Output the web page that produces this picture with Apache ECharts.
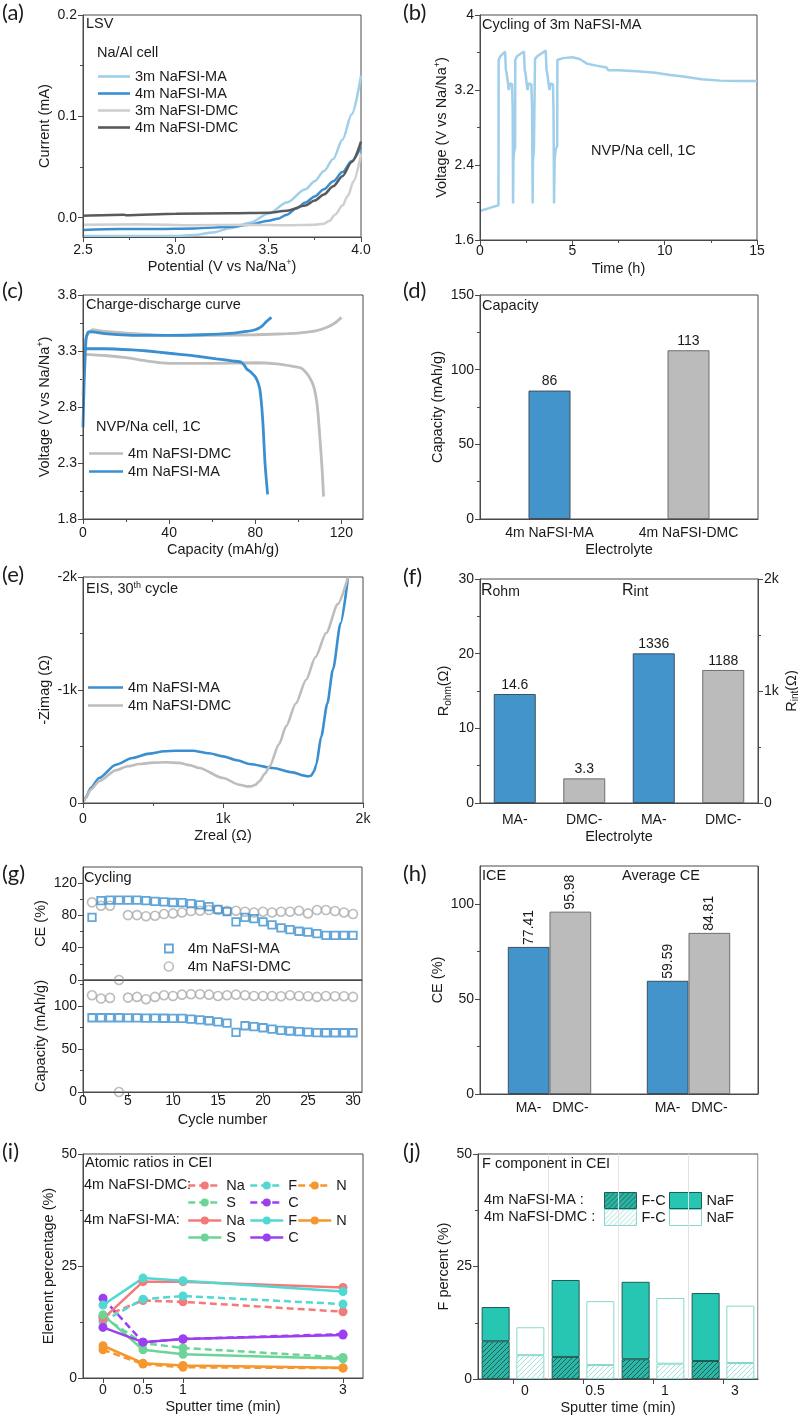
<!DOCTYPE html>
<html><head><meta charset="utf-8">
<script src="https://cdn.jsdelivr.net/npm/echarts@6/dist/echarts.min.js"></script>
<style>html,body{margin:0;padding:0;background:#fff}#c{width:798px;height:1416px}</style>
</head><body><div id="c"></div>
<script>
// ================= DATA =================
// (a) LSV, [potential V, current mA]
const lsv3mMA = [[2.5,-0.018],[2.7,-0.018],[2.9,-0.018],[3.0,-0.018],[3.1,-0.017],[3.2,-0.0145],[3.3,-0.010],[3.4,-0.005],[3.5,0.004],[3.6,0.015],[3.7,0.028],[3.75,0.036],[3.8,0.046],[3.85,0.058],[3.9,0.077],[3.95,0.102],[4.0,0.14]];
const lsv4mMA = [[2.5,-0.012],[2.7,-0.011],[2.9,-0.011],[3.1,-0.0105],[3.3,-0.009],[3.4,-0.007],[3.5,-0.003],[3.55,-0.001],[3.6,0.003],[3.65,0.009],[3.7,0.015],[3.75,0.021],[3.8,0.028],[3.85,0.036],[3.9,0.045],[3.95,0.056],[4.0,0.07]];
const lsv3mDMC = [[2.5,-0.007],[2.8,-0.0065],[3.1,-0.0075],[3.4,-0.007],[3.6,-0.0075],[3.75,-0.007],[3.8,-0.006],[3.83,-0.003],[3.86,0.003],[3.9,0.012],[3.93,0.022],[3.96,0.036],[4.0,0.063]];
const lsv4mDMC = [[2.5,0.002],[2.72,0.003],[2.73,0.0025],[3.0,0.004],[3.3,0.0045],[3.5,0.005],[3.6,0.007],[3.7,0.012],[3.75,0.017],[3.8,0.023],[3.85,0.031],[3.9,0.041],[3.95,0.055],[4.0,0.075]];
// (b) cycling of 3m NaFSI-MA, [time h, voltage V]
const cyc3mMA = [[0,1.91],[0.5,1.94],[1.0,1.97],[1.01,3.52],[1.1,3.56],[1.36,3.61],[1.4,3.42],[1.45,3.37],[1.55,3.36],[1.56,3.2],[1.62,3.27],[1.68,3.29],[1.74,3.26],[1.77,3.0],[1.79,1.99],[1.81,2.45],[1.85,2.55],[1.9,2.58],
  [1.91,3.52],[2.0,3.56],[2.38,3.61],[2.42,3.42],[2.47,3.37],[2.56,3.36],[2.57,3.2],[2.63,3.27],[2.7,3.29],[2.78,3.26],[2.82,3.0],[2.85,1.99],[2.87,2.45],[2.92,2.56],[2.97,2.58],
  [2.98,3.53],[3.1,3.56],[3.56,3.62],[3.6,3.42],[3.65,3.37],[3.75,3.36],[3.76,3.2],[3.82,3.27],[3.88,3.29],[3.95,3.26],[3.98,3.0],[4.01,1.99],[4.04,2.45],[4.1,2.57],[4.18,2.6],
  [4.19,3.52],[4.5,3.54],[5.0,3.55],[5.4,3.53],[5.8,3.48],[6.3,3.46],[6.85,3.44],[6.95,3.41],[7.5,3.41],[8.5,3.4],[9.5,3.385],[10.3,3.36],[11,3.345],[12,3.315],[13,3.30],[14,3.295],[15,3.295]];
// (c) charge-discharge, [capacity mAh/g, voltage V]
const dmcCharge = [[0,2.9],[1,3.38],[2.5,3.46],[4.5,3.49],[8,3.48],[20,3.46],[40,3.44],[60,3.44],[80,3.445],[95,3.455],[102,3.465],[108,3.48],[113,3.51],[117,3.55],[120,3.6]];
const dmcDischarge = [[0,3.27],[10,3.26],[20,3.24],[30,3.21],[40,3.19],[60,3.19],[80,3.195],[90,3.185],[97,3.165],[101,3.15],[103,3.12],[105,3.07],[107,2.99],[108.5,2.85],[109.3,2.7],[110,2.52],[111,2.25],[111.7,2.0]];
const maCharge = [[0,2.62],[0.5,3.0],[1,3.25],[1.5,3.42],[2.5,3.47],[4,3.47],[10,3.455],[23,3.44],[40,3.44],[55,3.445],[70,3.46],[76,3.475],[80,3.49],[83,3.52],[85,3.56],[87.5,3.6]];
const maDischarge = [[0,3.32],[10,3.32],[23,3.31],[30,3.3],[40,3.28],[50,3.26],[62,3.23],[70,3.21],[73.5,3.2],[75,3.17],[76,3.14],[78,3.11],[80.3,3.06],[82,2.97],[83,2.8],[83.7,2.6],[84.5,2.3],[85.7,2.02]];
// (d) capacity
const dCats = ['4m NaFSI-MA','4m NaFSI-DMC'];
const dCapacity = [86, 113];
// (e) EIS, [Zreal, Zimag]
const eisMA = [[0,0],[20,-50],[55,-133],[115,-221],[234,-339],[353,-398],[472,-437],[580,-458],[663,-463],[783,-463],[900,-440],[1000,-413],[1100,-378],[1189,-345],[1356,-310],[1499,-271],[1580,-242],[1606,-236],[1630,-242],[1650,-280],[1666,-339],[1702,-590],[1745,-880],[1785,-1180],[1840,-1590],[1893,-2000]];
const eisDMC = [[0,0],[20,-45],[55,-118],[115,-192],[234,-289],[320,-325],[401,-345],[500,-357],[592,-360],[687,-355],[760,-335],[830,-310],[1000,-221],[1117,-162],[1170,-147],[1200,-147],[1230,-160],[1260,-192],[1300,-260],[1332,-324],[1400,-520],[1451,-678],[1520,-880],[1594,-1091],[1660,-1290],[1737,-1504],[1820,-1760],[1893,-2000]];
// (f) resistances
const fCats = ['MA-','DMC-','MA-','DMC-'];
const rOhm = [14.6, 3.3];
const rInt = [1336, 1188];
// (g) cycling
const cycles = [1,2,3,4,5,6,7,8,9,10,11,12,13,14,15,16,17,18,19,20,21,22,23,24,25,26,27,28,29,30];
const ceMA = [77.5,98.3,99,99,99,99,98.3,97.5,96.7,96,95.8,94.6,93,91,87.5,84.6,72,77.5,76,72,68.3,64.6,62.5,60.4,59.2,57.5,55.4,55.4,55.4,55.4];
const ceDMC = [96.2,92,92,0,80.4,80.4,79,79.6,81.7,82.5,83.7,85.4,85.8,86.7,86.7,85.8,85.8,84.6,83.7,84.6,83.7,84.6,84.6,85.8,82.5,86.7,86.7,85.4,83.7,81.7];
const capMA = [86.2,86.2,86.2,86.2,86,86,85.8,85.8,85.6,85.4,85.4,84.6,83.8,82.7,81.5,80,69.2,76.9,75.8,74.6,73,71.5,70.8,70,69.5,69,68.8,68.8,68.8,68.8];
const capDMC = [112.3,108.5,109.2,0,109.6,110.4,107.7,110.4,112.3,111.5,113,113.5,113.5,113,111.5,112.3,113,112.3,111.5,111.5,111.5,111.2,112.3,111.5,111.2,110.4,111.5,111.2,111.2,110.4];
// (h) CE
const hCats = ['ICE','Average CE'];
const hMA = [77.41, 59.59];
const hDMC = [95.98, 84.81];
// (i) atomic ratios
const sputter = [0, 0.5, 1, 3];
const maNa = [13.2,21.5,21.5,20.2], maF = [16.3,22.3,21.7,19.3], maN = [7.2,3.3,2.8,2.3], maS = [14.1,6.3,5.3,4.3], maC = [11.3,8.0,8.7,9.6];
const dmcNa = [13.7,17.3,17.0,14.8], dmcF = [12.6,17.6,18.3,16.5], dmcN = [6.3,3.1,2.4,2.2], dmcS = [13.7,7.8,6.7,4.6], dmcC = [17.8,8.0,8.7,9.8];
// (j) F components (stack segments)
const jCats = ['0','0.5','1','3'];
const maFC = [8.4,4.9,4.4,4.0], maNaF = [7.6,17.1,17.2,15.1];
const dmcFC = [5.3,3.1,3.4,3.55], dmcNaF = [6.2,14.2,14.6,12.75];

// ================= STYLE =================
const FONT = '"Liberation Sans", Arial, sans-serif';
const AX = '#4a4a4a', TXT = '#1a1a1a';
const BLUE = '#3a8fd0', LBLUE = '#9fcfea', BARBLUE = '#4494cc', BARGRAY = '#bbbbbb';
const RICH = {
  sup:{fontSize:9, verticalAlign:'top', fontFamily:FONT, color:TXT},
  sub:{fontSize:10, verticalAlign:'bottom', fontFamily:FONT, color:TXT}
};
const NAMESTYLE = {color:TXT, fontSize:14.5, fontFamily:FONT, lineHeight:18, rich:RICH};
const kfmt = v => v === 0 ? '0' : (v/1000) + 'k';

const grids = [], xAxes = [], yAxes = [], legends = [], series = [], graphics = [];
function grid(l,t,w,h){ grids.push({left:l,top:t,width:w,height:h,show:true,borderColor:AX,borderWidth:1,backgroundColor:'rgba(0,0,0,0)',containLabel:false,outerBoundsMode:'none'}); return grids.length-1; }
function addVal(list, g, o){
  const base = {type:'value', gridIndex:g, min:o.min, max:o.max, position:o.pos, inverse:!!o.inverse, splitLine:{show:false}};
  const lab = {show:!o.hideLabels, customValues:o.labels, color:TXT, fontSize:14, fontFamily:FONT, margin:(o.margin===undefined?6:o.margin)};
  if (o.fmt) lab.formatter = o.fmt;
  list.push(Object.assign({}, base, {
    axisLine:{show:true,onZero:false,lineStyle:{color:AX,width:1}},
    axisTick:{show:o.tick!==false, inside:false, length:5, lineStyle:{color:AX,width:1}, customValues:o.labels},
    axisLabel:lab,
    name:o.name||'', nameLocation:'middle', nameGap:o.nameGap||20, nameTextStyle:NAMESTYLE, z:5
  }));
  const idx = list.length-1;
  if (o.minor) list.push(Object.assign({}, base, {
    axisLine:{show:false,onZero:false}, axisTick:{show:true,inside:false,length:3,lineStyle:{color:AX,width:1},customValues:o.minor},
    axisLabel:{show:false,customValues:o.minor}, name:''
  }));
  return idx;
}
function addCat(list, g, o){
  const lab = {show:true, color:TXT, fontSize:14, fontFamily:FONT, margin:(o.margin===undefined?8:o.margin), interval:0};
  if (o.fmt) lab.formatter = o.fmt;
  if (o.rich) lab.rich = o.rich;
  if (o.pad) lab.padding = o.pad;
  list.push({type:'category', gridIndex:g, data:o.data, position:'bottom', boundaryGap:true,
    axisLine:{show:true,onZero:false,lineStyle:{color:AX,width:1}},
    axisTick:{show:!!o.tick, alignWithLabel:true, length:5, lineStyle:{color:AX,width:1}},
    axisLabel:lab, splitLine:o.split||{show:false},
    name:o.name||'', nameLocation:'middle', nameGap:o.nameGap||24, nameTextStyle:NAMESTYLE, z:5});
  return list.length-1;
}
function leg(name, left, cy, o){
  o = o || {};
  const ih = o.ih || 14, iw = o.iw || 32;
  const L = {show:true, orient:'horizontal', left:left, top:cy - Math.max(ih,14)/2, padding:0, itemGap:0,
    itemWidth:iw, itemHeight:ih, data:[name], selectedMode:false,
    formatter: n => n.split('|')[1],
    textStyle:{color:TXT, fontSize:14.5, fontFamily:FONT, padding:o.tp||0},
    lineStyle:{width:o.lw||2.5}};
  if (o.icon) L.icon = o.icon;
  if (o.itemStyle) L.itemStyle = o.itemStyle;
  legends.push(L);
}
// legend entry drawn as a plain line (series without symbols)
function legLine(name, left, cy, iw){ leg(name, left, cy, {iw:iw, ih:2.6, icon:'rect', itemStyle:{borderWidth:0}}); }
function txt(x, y, text, o){
  o = o || {};
  graphics.push({type:'text', x:x, y:y, z:100, silent:true, style:{text:text, fill:TXT,
    font:(o.size||14.5)+'px '+(o.family||FONT), align:'left', verticalAlign:'middle',
    rich:o.rich||RICH}});
}
function hatch(bg, fg){
  const s = 5, c = document.createElement('canvas'); c.width = s; c.height = s;
  const x = c.getContext('2d'); x.fillStyle = bg; x.fillRect(0,0,s,s);
  x.strokeStyle = fg; x.lineWidth = 1; x.beginPath();
  x.moveTo(0,s); x.lineTo(s,0); x.moveTo(-1,1); x.lineTo(1,-1); x.moveTo(s-1,s+1); x.lineTo(s+1,s-1);
  x.stroke();
  return {image:c, repeat:'repeat'};
}
const lineS = (name, xi, yi, data, color, w, extra) => Object.assign({type:'line', name, xAxisIndex:xi, yAxisIndex:yi, data, symbol:'none', showSymbol:false,
  lineStyle:{color, width:w||2.5}, itemStyle:{color}, clip:true, z:3}, extra||{});
const barLabel = {show:true, position:'top', distance:2, color:TXT, fontSize:14, fontFamily:FONT};
const blueBar = {color:BARBLUE, borderColor:'#3e4f5d', borderWidth:1};
const grayBar = {color:BARGRAY, borderColor:'#6e6e6e', borderWidth:1};

// ================= PANELS =================
// (a)
const gA = grid(83,15,278,222);
const xA = addVal(xAxes,gA,{min:2.5,max:4.0,pos:'bottom',labels:[2.5,3,3.5,4],fmt:v=>v.toFixed(1),minor:[2.75,3.25,3.75],name:'Potential (V vs Na/Na{sup|+})',nameGap:15,margin:6});
const yA = addVal(yAxes,gA,{min:-0.019,max:0.2,pos:'left',labels:[0,0.1,0.2],fmt:v=>v.toFixed(1),minor:[0.05,0.15],name:'Current (mA)',nameGap:27});
series.push(lineS('a|3m NaFSI-MA',xA,yA,lsv3mMA,LBLUE,2.5,{smooth:0.3,smoothMonotone:'x'}));
series.push(lineS('a|4m NaFSI-MA',xA,yA,lsv4mMA,BLUE,2.5,{smooth:0.3,smoothMonotone:'x'}));
series.push(lineS('a|3m NaFSI-DMC',xA,yA,lsv3mDMC,'#cfcfcf',2.5,{smooth:0.3,smoothMonotone:'x'}));
series.push(lineS('a|4m NaFSI-DMC',xA,yA,lsv4mDMC,'#5a5a5a',2.5,{smooth:0.3,smoothMonotone:'x'}));
[['a|3m NaFSI-MA',76],['a|4m NaFSI-MA',93],['a|3m NaFSI-DMC',110],['a|4m NaFSI-DMC',127]].forEach(p=>legLine(p[0],98,p[1],32));
txt(86,24,'LSV'); txt(97,53,'Na/Al cell');

// (b)
const gB = grid(480,15,277,225);
const xB = addVal(xAxes,gB,{min:0,max:15,pos:'bottom',labels:[0,5,10,15],minor:[2.5,7.5,12.5],name:'Time (h)',nameGap:20,margin:4});
const yB = addVal(yAxes,gB,{min:1.6,max:4,pos:'left',labels:[1.6,2.4,3.2,4],minor:[2.0,2.8,3.6],name:'Voltage (V vs Na/Na{sup|+})',nameGap:29});
series.push(lineS('b|3m NaFSI-MA',xB,yB,cyc3mMA,LBLUE,2.5));
txt(482,25,'Cycling of 3m NaFSI-MA'); txt(591,151,'NVP/Na cell, 1C');

// (c)
const gC = grid(83,295,280,224);
const xC = addVal(xAxes,gC,{min:0,max:130,pos:'bottom',labels:[0,40,80,120],minor:[20,60,100],name:'Capacity (mAh/g)',nameGap:21,margin:7});
const yC = addVal(yAxes,gC,{min:1.8,max:3.8,pos:'left',labels:[1.8,2.3,2.8,3.3,3.8],minor:[2.05,2.55,3.05,3.55],name:'Voltage (V vs Na/Na{sup|+})',nameGap:28});
series.push(lineS('c|4m NaFSI-DMC',xC,yC,dmcCharge,'#bdbdbd',2.8,{smooth:0.2}));
series.push(lineS('c|4m NaFSI-DMC',xC,yC,dmcDischarge,'#bdbdbd',2.8,{smooth:0.2}));
series.push(lineS('c|4m NaFSI-MA',xC,yC,maCharge,BLUE,2.8,{smooth:0.2}));
series.push(lineS('c|4m NaFSI-MA',xC,yC,maDischarge,BLUE,2.8,{smooth:0.2}));
legLine('c|4m NaFSI-DMC',89,453,34); legLine('c|4m NaFSI-MA',89,471,34);
txt(86,305,'Charge-discharge curve'); txt(96,427,'NVP/Na cell, 1C');

// (d)
const gD = grid(480,295,278,224);
const xD = addCat(xAxes,gD,{data:dCats,name:'Electrolyte',nameGap:22,margin:7});
const yD = addVal(yAxes,gD,{min:0,max:150,pos:'left',labels:[0,50,100,150],minor:[25,75,125],name:'Capacity (mAh/g)',nameGap:29});
series.push({type:'bar',name:'d|cap',xAxisIndex:xD,yAxisIndex:yD,barWidth:42,
  data:dCapacity.map((v,i)=>({value:v,itemStyle:i===0?blueBar:grayBar})),label:barLabel});
txt(482,306,'Capacity');

// (e)
const gE = grid(83,577,280,226);
const xE = addVal(xAxes,gE,{min:0,max:2000,pos:'bottom',labels:[0,1000,2000],fmt:kfmt,minor:[500,1500],name:'Zreal (Ω)',nameGap:21,margin:9});
const yE = addVal(yAxes,gE,{min:-2000,max:0,inverse:true,pos:'left',labels:[-2000,-1000,0],fmt:kfmt,minor:[-1500,-500],name:'-Zimag (Ω)',nameGap:27});
series.push(lineS('e|4m NaFSI-MA',xE,yE,eisMA,BLUE,2.6,{smooth:0.25,smoothMonotone:'x'}));
series.push(lineS('e|4m NaFSI-DMC',xE,yE,eisDMC,'#bdbdbd',2.6,{smooth:0.25,smoothMonotone:'x'}));
legLine('e|4m NaFSI-MA',88,687,35); legLine('e|4m NaFSI-DMC',88,705,35);
txt(86,589,'EIS, 30{sup|th} cycle');

// (f)
const gF = grid(480,579,278,224);
const xF = addCat(xAxes,gF,{data:fCats,name:'Electrolyte',nameGap:23,margin:10,
  split:{show:true,interval:(i)=>i===2,lineStyle:{color:AX,width:1}}});
const yF1 = addVal(yAxes,gF,{min:0,max:30,pos:'left',labels:[0,10,20,30],minor:[5,15,25],name:'R{sub|ohm}(Ω)',nameGap:27});
const yF2 = addVal(yAxes,gF,{min:0,max:2000,pos:'right',labels:[0,1000,2000],fmt:kfmt,minor:[500,1500],name:'R{sub|int}(Ω)',nameGap:24});
series.push({type:'bar',name:'f|ohm',xAxisIndex:xF,yAxisIndex:yF1,barWidth:42,barGap:'-100%',
  data:rOhm.map((v,i)=>({value:v,itemStyle:i===0?blueBar:grayBar})).concat(['-','-']),label:barLabel});
series.push({type:'bar',name:'f|int',xAxisIndex:xF,yAxisIndex:yF2,barWidth:42,barGap:'-100%',
  data:['-','-'].concat(rInt.map((v,i)=>({value:v,itemStyle:i===0?blueBar:grayBar}))),label:barLabel});
const RICH2 = {b:{fontSize:16,fontFamily:FONT,color:TXT}, s:{fontSize:14,fontFamily:FONT,color:TXT,verticalAlign:'bottom',lineHeight:14}};
graphics.push({type:'text',x:481,y:591,z:100,style:{text:'{b|R}{s|ohm}',fill:TXT,font:'16px '+FONT,verticalAlign:'middle',rich:RICH2}});
graphics.push({type:'text',x:622,y:591,z:100,style:{text:'{b|R}{s|int}',fill:TXT,font:'16px '+FONT,verticalAlign:'middle',rich:RICH2}});

// (g)
const gG1 = grid(83,867,279,113);
const gG2 = grid(83,980,279,112);
const xG1 = addVal(xAxes,gG1,{min:0,max:31,pos:'bottom',labels:[0,5,10,15,20,25,30],hideLabels:true,tick:false});
const xG2 = addVal(xAxes,gG2,{min:0,max:31,pos:'bottom',labels:[0,5,10,15,20,25,30],name:'Cycle number',nameGap:19,margin:2});
const yG1 = addVal(yAxes,gG1,{min:0,max:140,pos:'left',labels:[0,40,80,120],minor:[20,60,100],name:'CE (%)',nameGap:27});
const yG2 = addVal(yAxes,gG2,{min:0,max:130,pos:'left',labels:[0,50,100],minor:[25,75,125],name:'Capacity (mAh/g)',nameGap:27});
const sqStyle = {color:'rgba(255,255,255,0)',borderColor:BLUE,borderWidth:1.8};
const ciStyle = {color:'rgba(255,255,255,0)',borderColor:'#ababab',borderWidth:1.6};
series.push({type:'scatter',name:'g|4m NaFSI-DMC',xAxisIndex:xG1,yAxisIndex:yG1,data:cycles.map((c,i)=>[c,ceDMC[i]]),symbol:'circle',symbolSize:9,itemStyle:ciStyle,clip:false});
series.push({type:'scatter',name:'g|4m NaFSI-MA',xAxisIndex:xG1,yAxisIndex:yG1,data:cycles.map((c,i)=>[c,ceMA[i]]),symbol:'rect',symbolSize:7.5,itemStyle:sqStyle,clip:false});
series.push({type:'scatter',name:'g|4m NaFSI-DMC',xAxisIndex:xG2,yAxisIndex:yG2,data:cycles.map((c,i)=>[c,capDMC[i]]),symbol:'circle',symbolSize:9,itemStyle:ciStyle,clip:false});
series.push({type:'scatter',name:'g|4m NaFSI-MA',xAxisIndex:xG2,yAxisIndex:yG2,data:cycles.map((c,i)=>[c,capMA[i]]),symbol:'rect',symbolSize:7.5,itemStyle:sqStyle,clip:false});
leg('g|4m NaFSI-MA',164,948,{iw:8,ih:8,tp:[0,0,0,10],itemStyle:{borderWidth:1.8}});
leg('g|4m NaFSI-DMC',163.5,966,{iw:9,ih:9,tp:[0,0,0,9.5],itemStyle:{borderWidth:1.6}});
txt(84,878,'Cycling');

// (h)
const gH = grid(480,866,278,228);
const xH = addCat(xAxes,gH,{data:hCats,margin:7,fmt:()=>'{a|MA-}{b|DMC-}',
  rich:{a:{width:42,align:'center',fontSize:14,fontFamily:FONT,color:TXT},b:{width:42,align:'center',fontSize:14,fontFamily:FONT,color:TXT}},
  split:{show:true,interval:(i)=>i===1,lineStyle:{color:AX,width:1}}});
const yH = addVal(yAxes,gH,{min:0,max:120,pos:'left',labels:[0,50,100],minor:[25,75],name:'CE (%)',nameGap:29});
const rotLabel = {show:true,position:'top',rotate:90,align:'left',verticalAlign:'middle',distance:2,color:TXT,fontSize:14,fontFamily:FONT,formatter:p=>p.value.toFixed(2)};
series.push({type:'bar',name:'h|MA',xAxisIndex:xH,yAxisIndex:yH,barWidth:41.7,barGap:'0%',data:hMA,itemStyle:blueBar,label:rotLabel});
series.push({type:'bar',name:'h|DMC',xAxisIndex:xH,yAxisIndex:yH,barWidth:41.7,barGap:'0%',data:hDMC,itemStyle:grayBar,label:rotLabel});
txt(482,876,'ICE'); txt(622,876,'Average CE');

// (i)
const gI = grid(83,1154,280,224);
const xI = addVal(xAxes,gI,{min:-0.25,max:3.25,pos:'bottom',labels:[0,0.5,1,3],name:'Sputter time (min)',nameGap:20,margin:5});
const yI = addVal(yAxes,gI,{min:0,max:50,pos:'left',labels:[0,25,50],minor:[12.5,37.5],name:'Element percentage (%)',nameGap:25});
const EL = {Na:'#f47a7a',F:'#52d8d2',N:'#f5972c',S:'#6dd497',C:'#9b3ff0'};
const dmcSet = {Na:dmcNa,F:dmcF,N:dmcN,S:dmcS,C:dmcC}, maSet = {Na:maNa,F:maF,N:maN,S:maS,C:maC};
const dotS = (name, arr, color, dashed) => ({type:'line',name,xAxisIndex:xI,yAxisIndex:yI,data:sputter.map((t,i)=>[t,arr[i]]),
  symbol:'circle',symbolSize:9,showSymbol:true,lineStyle:{color,width:2.5,type:dashed?[7,4]:'solid'},itemStyle:{color},z:3});
['Na','F','N','S','C'].forEach(k=>series.push(dotS('iD|'+k,dmcSet[k],EL[k],true)));
['Na','F','N','S','C'].forEach(k=>series.push(dotS('iM|'+k,maSet[k],EL[k],false)));
const colX = {Na:187,F:249,N:297,S:187,C:249};
const rowY = {D1:1185,D2:1202,M1:1220,M2:1237};
[['Na','1'],['F','1'],['N','1'],['S','2'],['C','2']].forEach(p=>{
  leg('iD|'+p[0],colX[p[0]],rowY['D'+p[1]],{iw:33,ih:10,lw:2.5});
  leg('iM|'+p[0],colX[p[0]],rowY['M'+p[1]],{iw:33,ih:10,lw:2.5});
});
txt(85,1163,'Atomic ratios in CEI'); txt(84,1185,'4m NaFSI-DMC:'); txt(84,1220,'4m NaFSI-MA:');

// (j)
const gJ = grid(478,1154,280,225);
const xJ = addCat(xAxes,gJ,{data:jCats,tick:true,margin:5,pad:[0,0,0,24],name:'Sputter time (min)',nameGap:19,
  split:{show:true,lineStyle:{color:'#e2e2e2',width:1}}});
const yJ = addVal(yAxes,gJ,{min:0,max:50,pos:'left',labels:[0,25,50],minor:[12.5,37.5],name:'F percent (%)',nameGap:21});
const patMA = hatch('#2bb8a6','#1d5e56');
const patDMC = hatch('#ffffff','#9fe2d9');
const jb = (name, stack, data, st) => ({type:'bar',name,stack,xAxisIndex:xJ,yAxisIndex:yJ,data,barWidth:28,barGap:'24%',itemStyle:st});
series.push(jb('jM|F-C','ma',maFC,{color:patMA,borderColor:'#1d5e56',borderWidth:1}));
series.push(jb('jM|NaF','ma',maNaF,{color:'#27c6b3',borderColor:'#1d5e56',borderWidth:1}));
series.push(jb('jD|F-C','dmc',dmcFC,{color:patDMC,borderColor:'#86d8ce',borderWidth:1}));
series.push(jb('jD|NaF','dmc',dmcNaF,{color:'#ffffff',borderColor:'#86d8ce',borderWidth:1}));
leg('jM|F-C',604,1200,{iw:32,ih:16,icon:'rect',itemStyle:{borderWidth:1}});
leg('jM|NaF',669,1200,{iw:32,ih:16,icon:'rect',itemStyle:{borderWidth:1}});
leg('jD|F-C',604,1217,{iw:32,ih:16,icon:'rect',itemStyle:{borderWidth:1}});
leg('jD|NaF',669,1217,{iw:32,ih:16,icon:'rect',itemStyle:{borderWidth:1}});
txt(482,1164,'F component in CEI'); txt(484,1200,'4m NaFSI-MA :'); txt(484,1217,'4m NaFSI-DMC :');

// panel letters
[['(a)',2,13],['(b)',403,13],['(c)',2,291],['(d)',403,291],['(e)',2,575],['(f)',403,577],['(g)',2,874],['(h)',403,874],['(i)',2,1152],['(j)',403,1152]]
  .forEach(p=>txt(p[1],p[2],p[0],{size:22,family:'Lato, "Open Sans", sans-serif'}));

const chart = echarts.init(document.getElementById('c'), null, {renderer:'canvas', width:798, height:1416});
chart.setOption({animation:false, backgroundColor:'#ffffff', textStyle:{fontFamily:FONT},
  grid:grids, xAxis:xAxes, yAxis:yAxes, legend:legends, series:series, graphic:{elements:graphics}});
</script></body></html>
